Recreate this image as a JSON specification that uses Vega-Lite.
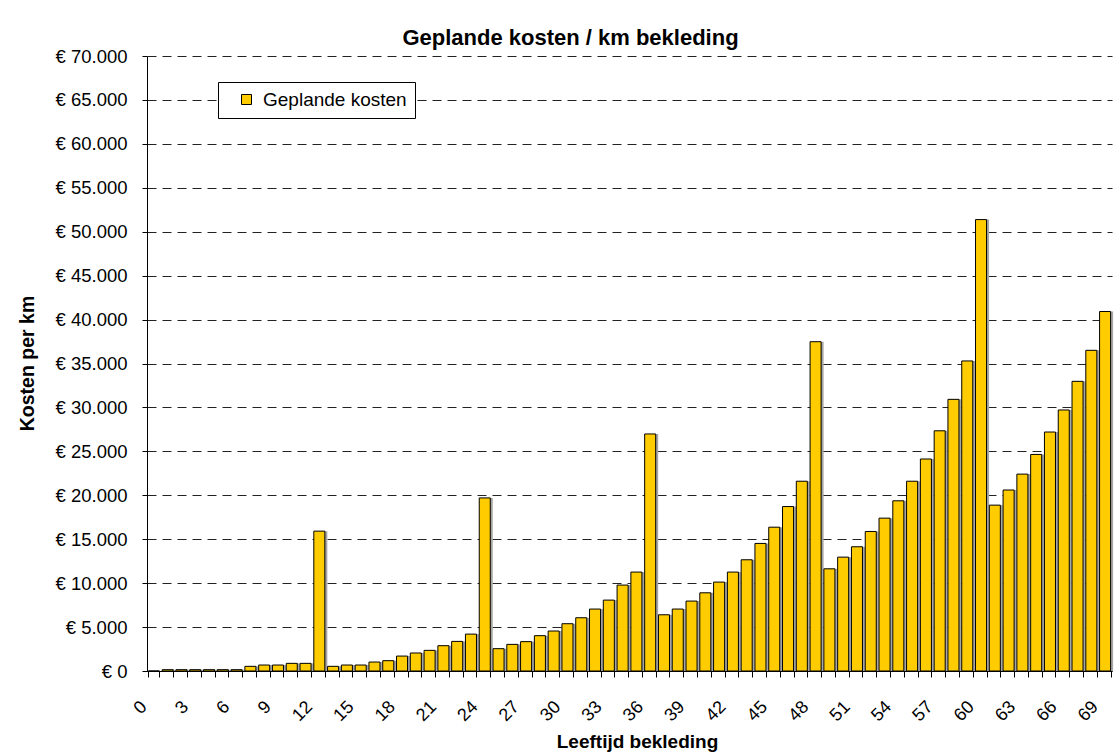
{
  "$schema": "https://vega.github.io/schema/vega-lite/v6.json",
  "width": 965,
  "height": 615,
  "autosize": {"type": "none"},
  "padding": {"left": 147, "top": 56, "right": 2, "bottom": 85},
  "background": "white",
  "title": {
    "text": "Geplande kosten / km bekleding",
    "font": "Liberation Sans",
    "fontSize": 22,
    "fontWeight": "bold",
    "color": "#000",
    "anchor": "middle",
    "frame": "group",
    "dx": -59,
    "dy": 12,
    "offset": 9
  },
  "data": {
    "values": [
      {"leeftijd": 0, "kosten": 0},
      {"leeftijd": 1, "kosten": 150},
      {"leeftijd": 2, "kosten": 150},
      {"leeftijd": 3, "kosten": 150},
      {"leeftijd": 4, "kosten": 150},
      {"leeftijd": 5, "kosten": 150},
      {"leeftijd": 6, "kosten": 150},
      {"leeftijd": 7, "kosten": 530},
      {"leeftijd": 8, "kosten": 680},
      {"leeftijd": 9, "kosten": 680},
      {"leeftijd": 10, "kosten": 870},
      {"leeftijd": 11, "kosten": 870},
      {"leeftijd": 12, "kosten": 15920},
      {"leeftijd": 13, "kosten": 530},
      {"leeftijd": 14, "kosten": 680},
      {"leeftijd": 15, "kosten": 680},
      {"leeftijd": 16, "kosten": 1020},
      {"leeftijd": 17, "kosten": 1175},
      {"leeftijd": 18, "kosten": 1700},
      {"leeftijd": 19, "kosten": 2050},
      {"leeftijd": 20, "kosten": 2350},
      {"leeftijd": 21, "kosten": 2880},
      {"leeftijd": 22, "kosten": 3370},
      {"leeftijd": 23, "kosten": 4200},
      {"leeftijd": 24, "kosten": 19700},
      {"leeftijd": 25, "kosten": 2540},
      {"leeftijd": 26, "kosten": 3030},
      {"leeftijd": 27, "kosten": 3340},
      {"leeftijd": 28, "kosten": 4020},
      {"leeftijd": 29, "kosten": 4550},
      {"leeftijd": 30, "kosten": 5380},
      {"leeftijd": 31, "kosten": 6060},
      {"leeftijd": 32, "kosten": 7050},
      {"leeftijd": 33, "kosten": 8070},
      {"leeftijd": 34, "kosten": 9780},
      {"leeftijd": 35, "kosten": 11260},
      {"leeftijd": 36, "kosten": 26980},
      {"leeftijd": 37, "kosten": 6400},
      {"leeftijd": 38, "kosten": 7050},
      {"leeftijd": 39, "kosten": 7960},
      {"leeftijd": 40, "kosten": 8900},
      {"leeftijd": 41, "kosten": 10120},
      {"leeftijd": 42, "kosten": 11260},
      {"leeftijd": 43, "kosten": 12660},
      {"leeftijd": 44, "kosten": 14520},
      {"leeftijd": 45, "kosten": 16370},
      {"leeftijd": 46, "kosten": 18720},
      {"leeftijd": 47, "kosten": 21600},
      {"leeftijd": 48, "kosten": 37480},
      {"leeftijd": 49, "kosten": 11630},
      {"leeftijd": 50, "kosten": 12960},
      {"leeftijd": 51, "kosten": 14140},
      {"leeftijd": 52, "kosten": 15880},
      {"leeftijd": 53, "kosten": 17400},
      {"leeftijd": 54, "kosten": 19370},
      {"leeftijd": 55, "kosten": 21600},
      {"leeftijd": 56, "kosten": 24130},
      {"leeftijd": 57, "kosten": 27340},
      {"leeftijd": 58, "kosten": 30920},
      {"leeftijd": 59, "kosten": 35290},
      {"leeftijd": 60, "kosten": 51380},
      {"leeftijd": 61, "kosten": 18880},
      {"leeftijd": 62, "kosten": 20600},
      {"leeftijd": 63, "kosten": 22410},
      {"leeftijd": 64, "kosten": 24650},
      {"leeftijd": 65, "kosten": 27200},
      {"leeftijd": 66, "kosten": 29710},
      {"leeftijd": 67, "kosten": 32970},
      {"leeftijd": 68, "kosten": 36500},
      {"leeftijd": 69, "kosten": 40920}
    ]
  },
  "encoding": {
    "x": {
      "field": "leeftijd",
      "type": "ordinal",
      "sort": "ascending",
      "scale": {"paddingInner": 0.2, "paddingOuter": 0.1},
      "axis": {
        "title": "Leeftijd bekleding",
        "titleFont": "Liberation Sans",
        "titleFontSize": 19,
        "titleFontWeight": "bold",
        "titleColor": "#000",
        "titleAlign": "center",
        "titleBaseline": "alphabetic",
        "titleX": 490,
        "titleY": 76,
        "labelAngle": -45,
        "labelAlign": "right",
        "labelBaseline": "middle",
        "labelFont": "Liberation Sans",
        "labelFontSize": 18,
        "labelColor": "#000",
        "labelOffset": -10,
        "labelPadding": 27,
        "labelOverlap": false,
        "labelExpr": "datum.value % 3 == 0 ? datum.label : ''",
        "tickBand": "extent",
        "tickSize": 6,
        "tickColor": "#000",
        "domainColor": "#000",
        "grid": false
      }
    },
    "y": {
      "field": "kosten",
      "type": "quantitative",
      "scale": {"domain": [0, 70000], "nice": false},
      "axis": {
        "title": "Kosten per km",
        "titleFont": "Liberation Sans",
        "titleFontSize": 19.5,
        "titleFontWeight": "bold",
        "titleColor": "#000",
        "titleAngle": -90,
        "titleAlign": "center",
        "titleBaseline": "alphabetic",
        "titleX": -114,
        "titleY": 307,
        "values": [0, 5000, 10000, 15000, 20000, 25000, 30000, 35000, 40000, 45000, 50000, 55000, 60000, 65000, 70000],
        "labelExpr": "'€ ' + replace(format(datum.value, ','), ',', '.')",
        "labelFont": "Liberation Sans",
        "labelFontSize": 18.5,
        "labelColor": "#000",
        "labelPadding": 15,
        "tickSize": 5,
        "tickColor": "#000",
        "domainColor": "#000",
        "grid": true,
        "gridColor": "#222",
        "gridDash": [9, 6],
        "gridWidth": 1
      }
    }
  },
  "layer": [
    {
      "mark": {"type": "bar", "color": "#a6a6a6", "xOffset": 2.5}
    },
    {
      "mark": {"type": "bar", "stroke": "#000", "strokeWidth": 1},
      "encoding": {
        "color": {
          "datum": "Geplande kosten",
          "type": "nominal",
          "scale": {"range": ["#FFCC00"]},
          "legend": {
            "title": null,
            "orient": "none",
            "legendX": 71,
            "legendY": 26,
            "padding": 8,
            "symbolType": "square",
            "symbolSize": 100,
            "symbolStrokeColor": "#000",
            "symbolStrokeWidth": 1,
            "symbolOffset": 11,
            "labelFont": "Liberation Sans",
            "labelFontSize": 19,
            "labelColor": "#000",
            "labelOffset": 7,
            "strokeColor": "#000",
            "fillColor": "#fff"
          }
        }
      }
    }
  ],
  "config": {
    "view": {"stroke": null}
  }
}
